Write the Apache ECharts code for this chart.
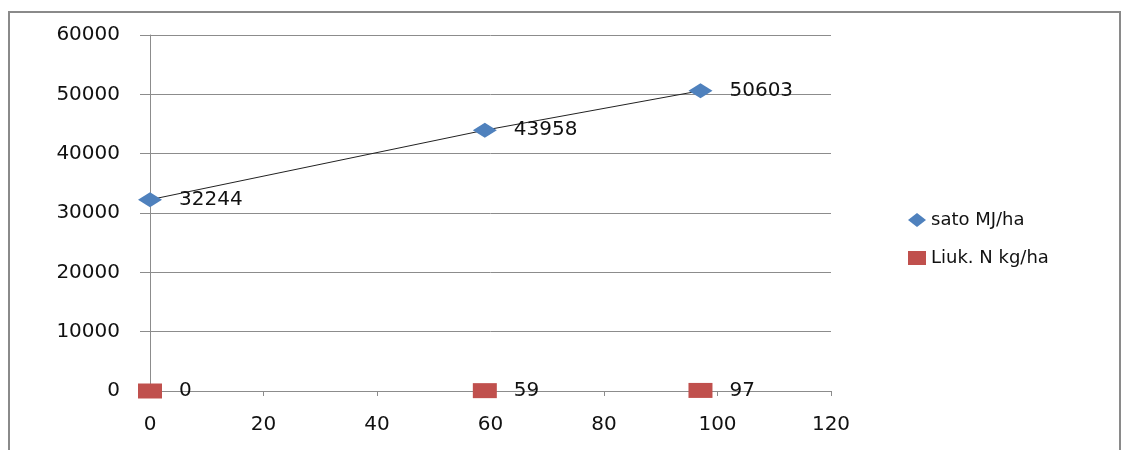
<!DOCTYPE html>
<html>
<head>
<meta charset="utf-8">
<script src="https://cdn.jsdelivr.net/npm/echarts@6/dist/echarts.min.js"></script>
<style>
html,body{margin:0;padding:0;background:#fff;}
#chart{width:1122px;height:450px;}
</style>
</head>
<body>
<div id="chart"></div>
<script>
// Data
const seriesNames = ['sato MJ/ha', 'Liuk. N kg/ha'];
const nitrogenX = [0, 59, 97];
const satoValues = [32244, 43958, 50603];
const liukValues = [0, 59, 97];
const xTicks = { min: 0, max: 120, interval: 20 };
const yTicks = { min: 0, max: 60000, interval: 10000 };

const satoData = nitrogenX.map((x, i) => [x, satoValues[i]]);
const liukData = nitrogenX.map((x, i) => [x, liukValues[i]]);

const font = 'DejaVu Sans';
const chart = echarts.init(document.getElementById('chart'), null, { renderer: 'canvas' });
chart.setOption({
  animation: false,
  backgroundColor: '#fff',
  textStyle: { fontFamily: font },
  graphic: [{
    type: 'rect',
    shape: { x: 9, y: 12, width: 1111, height: 460 },
    style: { fill: 'none', stroke: '#8a8a8a', lineWidth: 2 },
    z: 0
  }],
  grid: { left: 150, right: 291, top: 35, bottom: 59, containLabel: false },
  xAxis: {
    type: 'value', min: xTicks.min, max: xTicks.max, interval: xTicks.interval,
    axisLine: { show: true, onZero: false, lineStyle: { color: '#8c8c8c', width: 1 } },
    axisTick: { show: true, length: 5, lineStyle: { color: '#8c8c8c' } },
    splitLine: { show: false },
    axisLabel: { color: '#111', fontSize: 20, fontFamily: font, margin: 24 }
  },
  yAxis: {
    type: 'value', min: yTicks.min, max: yTicks.max, interval: yTicks.interval,
    axisLine: { show: true, lineStyle: { color: '#8c8c8c', width: 1 } },
    axisTick: { show: true, length: 10, lineStyle: { color: '#8c8c8c' } },
    splitLine: { show: true, lineStyle: { color: '#8c8c8c', width: 1 } },
    axisLabel: { color: '#111', fontSize: 20, fontFamily: font, margin: 30,
      formatter: v => String(v) }
  },
  legend: {
    orient: 'vertical', left: 903, top: 206, itemGap: 20,
    itemWidth: 18, itemHeight: 14,
    textStyle: { color: '#111', fontSize: 18, fontFamily: font },
    data: [
      { name: seriesNames[0], icon: 'diamond', itemStyle: { color: '#4F81BD' } },
      { name: seriesNames[1], icon: 'rect', itemStyle: { color: '#C0504D' } }
    ]
  },
  series: [
    {
      name: seriesNames[0], type: 'line', data: satoData,
      symbol: 'diamond', symbolSize: [24, 15],
      itemStyle: { color: '#4F81BD', opacity: 1 },
      lineStyle: { color: '#222', width: 1 },
      label: { show: true, position: 'right', distance: 17, color: '#111', fontSize: 20, fontFamily: font,
        formatter: p => String(p.value[1]) },
      z: 3
    },
    {
      name: seriesNames[1], type: 'scatter', data: liukData,
      symbol: 'rect', symbolSize: [24, 15],
      itemStyle: { color: '#C0504D', opacity: 1 },
      label: { show: true, position: 'right', distance: 17, color: '#111', fontSize: 20, fontFamily: font,
        formatter: p => String(p.value[1]) },
      z: 3
    }
  ]
});
</script>
</body>
</html>
